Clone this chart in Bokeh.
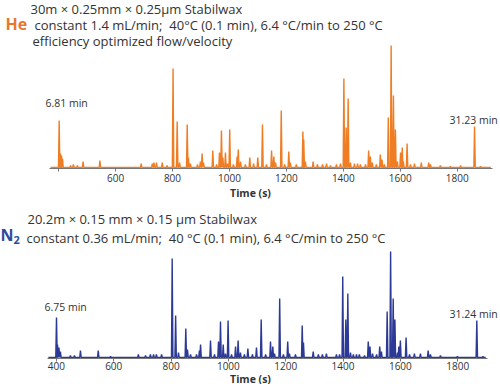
from bokeh.plotting import figure
from bokeh.models import Range1d, Label, FixedTicker
from bokeh.layouts import column
from bokeh.embed import file_html
from bokeh.resources import INLINE

# ---------------- data ----------------
tick_values = [400, 600, 800, 1000, 1200, 1400, 1600, 1800]

he_times = [402, 406.6, 410, 413.7, 442, 452, 466, 486, 545, 690, 729, 735, 744, 764, 781,
            802, 816.5, 825, 851.7, 856, 863, 888, 898, 904, 909, 941.6, 955, 965, 972, 977,
            986, 993, 1001, 1014, 1027, 1031, 1039, 1056, 1071.5, 1085, 1099.6, 1116, 1130,
            1148, 1156, 1162, 1182, 1194, 1208.5, 1214, 1235, 1258, 1261, 1267, 1294, 1309,
            1327, 1341, 1355, 1376, 1390, 1402, 1410, 1417, 1425, 1439, 1450, 1460, 1478,
            1489, 1495, 1502, 1516, 1530, 1536, 1544, 1558, 1568, 1576, 1583, 1590, 1601,
            1607, 1611, 1624, 1636, 1650, 1674, 1700, 1706, 1741, 1776, 1812, 1861, 1882]
he_heights = [47, 14, 12, 9, 2, 3, 2, 6, 7, 4, 4, 5, 5, 5, 2,
              99, 46, 5, 43, 10, 4, 3, 6, 14, 5, 17, 3, 15, 37, 10,
              15, 4, 38, 3, 11, 18, 6, 3, 10, 4, 10, 43, 3,
              17, 11, 5, 57, 3, 16, 5, 3, 36, 28, 6, 6, 3,
              3, 4, 2, 3, 4, 89, 40, 69, 5, 4, 4, 3, 3,
              17, 11, 5, 3, 13, 8, 3, 50, 122, 72, 38, 6, 15,
              20, 6, 24, 3, 4, 5, 5, 3, 2, 1, 2, 41, 1]

n2_times = [400.4, 404, 409, 414, 449, 463, 484, 546, 589, 686, 711, 728, 739, 749, 767,
            804, 816, 826, 851.5, 857.4, 868, 889, 899, 903, 937.7, 951.6, 965.6, 972.5, 982,
            990, 999, 1011, 1025, 1034, 1042, 1056, 1068, 1084, 1098, 1114.5, 1130, 1147,
            1155, 1161, 1179, 1192, 1207, 1213, 1234, 1257.6, 1262, 1296, 1314, 1328, 1342,
            1377, 1388, 1399, 1409.7, 1416.7, 1426, 1436, 1447, 1457, 1475, 1488, 1494, 1503,
            1517, 1528, 1534, 1554, 1566, 1575, 1581, 1590, 1594.6, 1600, 1620, 1632, 1649,
            1670, 1697, 1705, 1740, 1799, 1866.7, 1888]
n2_heights = [40, 13, 10, 6, 2, 2, 7, 7, 1, 3, 2, 3, 3, 3, 3,
              99, 42, 5, 29, 8, 3, 3, 7, 13, 17, 3, 16, 36, 13,
              4, 37, 3, 11, 17, 5, 3, 9, 3, 10, 38, 3, 16,
              11, 4, 59, 3, 16, 4, 3, 32, 15, 6, 3, 3, 4,
              3, 3, 81, 38, 64, 5, 3, 3, 3, 2, 16, 11, 4,
              3, 11, 6, 46, 106, 59, 38, 5, 11, 17, 20, 3, 4,
              4, 7, 3, 2, 1, 37, 1]

ORANGE = "#EF7D24"
BLUE = "#2C3A95"
TEXT = "#333333"
FONT = "Open Sans"
W = 500
SP2 = "\u00a0 "  # double space kept in SVG


def trace(times, heights, t0, t1, hw=2.5):
    xs, ys = [t0], [0]
    for t, h in sorted(zip(times, heights)):
        xs += [t - hw, t, t + hw]
        ys += [0, h, 0]
    xs.append(t1)
    ys.append(0)
    return xs, ys


class Mapper:
    """page-pixel -> data conversion for a frame spanning the full width"""
    def __init__(self, px0, px1, t0, t1, frame_bottom, y0=-1):
        self.s = (px1 - px0) / (t1 - t0)
        self.px0, self.t0 = px0, t0
        self.fb, self.y0 = frame_bottom, y0

    def x(self, px):
        return self.t0 + (px - self.px0) / self.s

    def y(self, py):
        return self.y0 + (self.fb - py)


def make_fig(m, axis_bounds, frame_h, label_standoff, title_standoff):
    xr = Range1d(m.x(0), m.x(W))
    yr = Range1d(m.y0, m.y0 + frame_h)
    p = figure(frame_width=W, frame_height=frame_h, x_range=xr, y_range=yr,
               output_backend="svg", toolbar_location=None,
               min_border_left=0, min_border_right=0,
               min_border_top=0, min_border_bottom=0)
    p.yaxis.visible = False
    p.xgrid.visible = False
    p.ygrid.visible = False
    p.outline_line_color = None
    ax = p.xaxis[0]
    ax.bounds = axis_bounds
    ax.ticker = FixedTicker(ticks=tick_values)
    ax.minor_tick_line_color = None
    ax.major_tick_out = 3
    ax.major_tick_in = 0
    ax.axis_line_color = "#777777"
    ax.major_tick_line_color = "#777777"
    ax.major_label_text_font = FONT
    ax.major_label_text_font_size = "10px"
    ax.major_label_text_color = TEXT
    ax.major_label_standoff = label_standoff
    ax.axis_label = "Time (s)"
    ax.axis_label_text_font = FONT
    ax.axis_label_text_font_size = "10.5px"
    ax.axis_label_text_font_style = "bold"
    ax.axis_label_text_color = TEXT
    ax.axis_label_standoff = title_standoff
    return p


def add_label(p, x, y, text, size="13px", color=TEXT, style="normal"):
    p.add_layout(Label(x=x, y=y, text=text, text_font=FONT, text_font_size=size,
                       text_color=color, text_font_style=style,
                       text_align="left", text_baseline="middle"))


# ---------------- top (He) ----------------
mt = Mapper(49, 492, 368, 1924, frame_bottom=168)
p1 = make_fig(mt, (368, 1924), 168, 2, 1)
p1.xaxis[0].major_label_overrides = {400: ""}
xs, ys = trace(he_times, he_heights, 372, 1918)
p1.line(xs, ys, line_color=ORANGE, line_width=1.4)

add_label(p1, mt.x(30), mt.y(8), "30m \u00d7 0.25mm \u00d7 0.25\u00b5m Stabilwax")
add_label(p1, mt.x(5), mt.y(23), "He", "16px", "#E8772E", "bold")
add_label(p1, mt.x(34), mt.y(24), "constant 1.4 mL/min;" + SP2 + "40\u00b0C (0.1 min), 6.4 \u00b0C/min to 250 \u00b0C")
add_label(p1, mt.x(32), mt.y(40), "efficiency optimized flow/velocity")
add_label(p1, mt.x(45), mt.y(102), "6.81 min", "10.5px")
add_label(p1, mt.x(449), mt.y(119), "31.23 min", "10.5px")

# ---------------- bottom (N2) ----------------
mb = Mapper(47, 487, 369, 1904, frame_bottom=156)
p2 = make_fig(mb, (369, 1904), 156, 0, -1)
xs2, ys2 = trace(n2_times, n2_heights, 372, 1898)
p2.line(xs2, ys2, line_color=BLUE, line_width=1.4)

off = 200  # page y of the bottom figure's top
add_label(p2, mb.x(27), mb.y(216 - off), "20.2m \u00d7 0.15 mm \u00d7 0.15 \u00b5m Stabilwax")
add_label(p2, mb.x(0), mb.y(232 - off), "N", "16px", "#2B4A9E", "bold")
add_label(p2, mb.x(13), mb.y(237 - off), "2", "11px", "#2B4A9E", "bold")
add_label(p2, mb.x(26), mb.y(235 - off), "constant 0.36 mL/min;" + SP2 + "40 \u00b0C (0.1 min), 6.4 \u00b0C/min to 250 \u00b0C")
add_label(p2, mb.x(44), mb.y(304 - off), "6.75 min", "10.5px")
add_label(p2, mb.x(449), mb.y(311 - off), "31.24 min", "10.5px")

layout = column(p1, p2, spacing=0)

open("out.html", "w").write(file_html(layout, INLINE))
